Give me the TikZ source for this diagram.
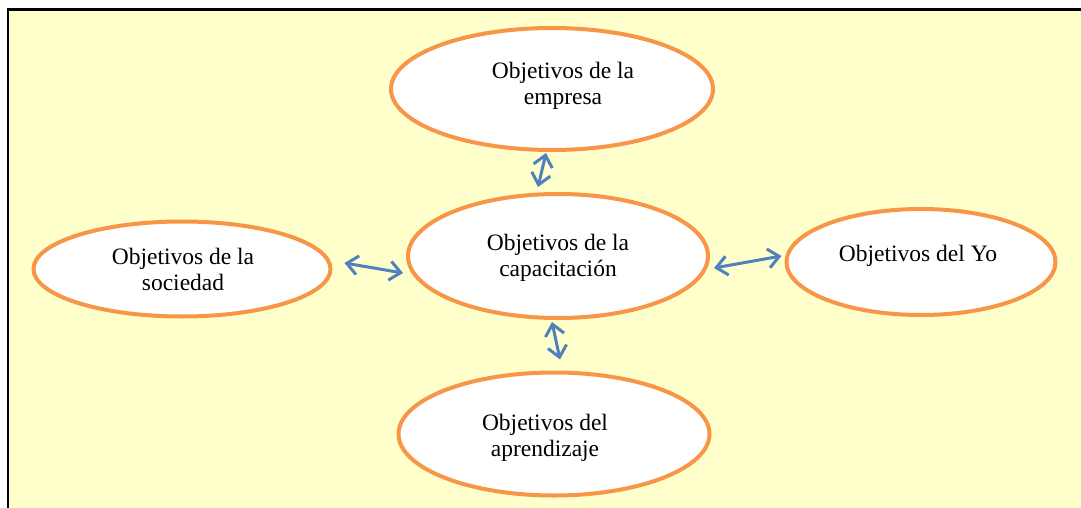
\documentclass[tikz,border=0pt]{standalone}
\usepackage{fontspec}
\setmainfont{Liberation Serif}
\usetikzlibrary{shapes.geometric,arrows.meta}
\definecolor{bgyellow}{RGB}{255,255,204}
\definecolor{ellorange}{RGB}{247,150,70}
\definecolor{arrblue}{RGB}{79,129,189}
\tikzset{
  oval/.style={ellipse, draw=ellorange, line width=4pt, fill=white, inner sep=0pt},
  lbl/.style={align=center, font=\fontsize{23.5}{26}\selectfont, inner sep=0pt},
  arr/.style={draw=arrblue, line width=3pt, {Straight Barb[length=11pt,width=19pt]}-{Straight Barb[length=11pt,width=19pt]}}
}
\begin{document}
\begin{tikzpicture}[x=1pt,y=-1pt]
\useasboundingbox (0,0) rectangle (1081,508);
\fill[white] (0,0) rectangle (1081,508);
\draw[fill=bgyellow, line width=2.5pt, draw=black] (8,9.5) rectangle (1090,520);
\node[oval, minimum width=322pt, minimum height=122pt] (top) at (552,89) {};
\node[oval, minimum width=300pt, minimum height=124pt] (cen) at (558,256) {};
\node[oval, minimum width=297pt, minimum height=95pt] (lft) at (182,269) {};
\node[oval, minimum width=269pt, minimum height=106pt] (rgt) at (921,262) {};
\node[oval, minimum width=311pt, minimum height=123pt] (bot) at (554,434) {};
\node[lbl] (toptxt) at (563,86) {Objetivos de la\\empresa};
\node[lbl] (centxt) at (558,258) {Objetivos de la\\capacitación};
\node[lbl] (lfttxt) at (183,269) {Objetivos de la\\sociedad};
\node[lbl] (rgttxt) at (918,256) {Objetivos del Yo};
\node[lbl] (bottxt) at (545,438) {Objetivos del\\aprendizaje};
\draw[arr] ([shift={(-6,1)}]top.south) -- ([shift={(-20,-5)}]cen.north);
\draw[arr] ([shift={(12,-6)}]lft.east) -- ([shift={(-3,17)}]cen.west);
\draw[arr] ([shift={(4,12)}]cen.east) -- ([shift={(-3,-6)}]rgt.west);
\draw[arr] ([shift={(-6,2)}]cen.south) -- ([shift={(6,-11)}]bot.north);
\end{tikzpicture}
\end{document}
